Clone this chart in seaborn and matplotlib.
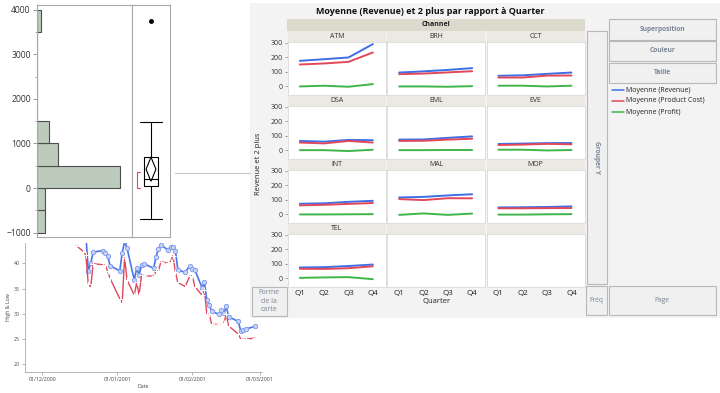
import numpy as np
import pandas as pd
import matplotlib.pyplot as plt
import matplotlib.dates as mdates
from matplotlib.patches import Rectangle, Polygon
from matplotlib.lines import Line2D
import seaborn as sns

# top-left distribution (histogram + outlier box plot)
dist_values = [-700, -560, -320, -120,
               5, 15, 30, 40, 50, 70, 95, 120, 150, 170,
               185, 195, 200, 230, 270, 320, 370, 420, 460, 490,
               700, 760, 820, 900, 960,
               1100, 1250, 1480,
               3750]
hist_bins = np.arange(-1000, 4001, 500)

# bottom-left High & Low series
ts_dates = ['2000-12-15', '2000-12-18', '2000-12-19', '2000-12-20', '2000-12-21', '2000-12-22',
            '2000-12-26', '2000-12-27', '2000-12-28', '2000-12-29', '2001-01-02', '2001-01-03',
            '2001-01-04', '2001-01-05', '2001-01-08', '2001-01-09', '2001-01-10', '2001-01-11',
            '2001-01-12', '2001-01-16', '2001-01-17', '2001-01-18', '2001-01-19', '2001-01-22',
            '2001-01-23', '2001-01-24', '2001-01-25', '2001-01-26', '2001-01-29', '2001-01-31',
            '2001-02-01', '2001-02-02', '2001-02-05', '2001-02-06', '2001-02-07', '2001-02-08',
            '2001-02-09', '2001-02-12', '2001-02-13', '2001-02-14', '2001-02-15', '2001-02-16',
            '2001-02-20', '2001-02-21', '2001-02-22', '2001-02-23', '2001-02-27']
ts_high = [47.0, 46.5, 45.5, 38.5, 40.0, 42.2, 42.5, 42.0, 41.5, 39.5, 38.5, 42.0,
           44.3, 43.0, 36.7, 39.0, 37.7, 39.7, 39.9, 39.0, 41.3, 42.8, 43.6, 42.6,
           43.3, 43.3, 42.5, 38.7, 38.2, 39.5, 38.9, 38.7, 35.2, 36.2, 32.7, 31.7,
           30.5, 29.9, 30.7, 30.1, 31.5, 29.4, 28.5, 26.6, 26.9, 27.0, 27.5]
ts_low = [43.5, 42.3, 41.6, 35.8, 35.3, 39.9, 39.7, 39.6, 38.4, 37.0, 33.0, 32.1,
          41.1, 36.7, 33.7, 36.2, 33.7, 37.7, 37.6, 37.4, 38.5, 38.5, 40.3, 40.0,
          40.3, 41.5, 38.2, 36.2, 35.4, 37.5, 37.5, 35.4, 33.7, 34.7, 29.9, 29.9,
          27.9, 27.9, 27.9, 28.1, 29.9, 27.6, 26.0, 25.0, 25.0, 25.0, 25.2]
ts_ticks = ['2000-12-01', '2001-01-01', '2001-02-01', '2001-03-01']

# right: graph builder, means by channel and quarter
quarters = ['Q1', 'Q2', 'Q3', 'Q4']
channels = ['ATM', 'BRH', 'CCT', 'DSA', 'EML', 'EVE', 'INT', 'MAL', 'MOP', 'TEL']
mean_revenue = [[175, 186, 198, 289], [95, 103, 113, 125], [73, 76, 86, 95],
                [65, 60, 72, 70], [74, 75, 86, 96], [44, 47, 50, 51],
                [73, 76, 86, 93], [116, 120, 130, 138], [48, 49, 51, 55],
                [75, 77, 85, 95]]
mean_cost = [[150, 157, 168, 232], [84, 88, 96, 104], [61, 61, 74, 75],
             [54, 48, 65, 54], [65, 66, 74, 80], [37, 40, 45, 42],
             [62, 66, 72, 78], [105, 98, 111, 110], [42, 42, 43, 44],
             [66, 65, 70, 83]]
mean_profit = [[0, 5, -2, 16], [0, 0, -2, 2], [5, 5, 0, 5],
               [2, 2, -4, 5], [2, 2, 3, 3], [5, 5, 0, 3],
               [0, 0, 1, 2], [-3, 7, -3, 6], [-1, -1, 1, 2],
               [4, 7, 9, -5]]
measure_names = ['Moyenne (Revenue)', 'Moyenne (Product Cost)', 'Moyenne (Profit)']
measure_colors = ['#3f6fe6', '#e2485a', '#3fb54a']

W, H = 720, 393
ZONE_TXT = '#7a8596'


def box(x0, y0, x1, y1):
    # pixel box (top-left origin) -> figure fraction rect
    return [x0 / W, 1 - y1 / H, (x1 - x0) / W, (y1 - y0) / H]


sns.set_style('white')
plt.rcParams['font.family'] = ['Open Sans', 'DejaVu Sans']

fig = plt.figure(figsize=(7.2, 3.93), dpi=100)

# ---------- bottom-left time series ----------
ax_ts = fig.add_axes(box(25, 243, 262, 372), zorder=0)
ts = pd.DataFrame({'Date': pd.to_datetime(ts_dates), 'High': ts_high, 'Low': ts_low})
sns.lineplot(data=ts, x='Date', y='High', ax=ax_ts, color='#4a74e8', lw=1.2,
             marker='o', ms=3.2, mfc='#c5d2f7', mec='#7b97ee', mew=0.6)
sns.lineplot(data=ts, x='Date', y='Low', ax=ax_ts, color='#e0475a', lw=1.0,
             marker='+', ms=4, mew=0.7)
ax_ts.set_ylim(18.5, 44)
ax_ts.set_xlim(pd.Timestamp('2000-11-23 20:00'), pd.Timestamp('2001-03-01 19:00'))
ax_ts.set_xticks(pd.to_datetime(ts_ticks))
ax_ts.xaxis.set_major_formatter(mdates.DateFormatter('%d/%m/%Y'))
ax_ts.set_yticks([20, 25, 30, 35, 40])
ax_ts.tick_params(labelsize=3.8, length=2, width=0.5, color='#999', pad=1.5,
                  labelcolor='#444', bottom=True, left=True)
ax_ts.set_xlabel('Date', fontsize=3.8, labelpad=1.5, color='#444')
ax_ts.set_ylabel('High & Low', fontsize=3.8, labelpad=2, color='#444')
for s in ['top', 'right']:
    ax_ts.spines[s].set_visible(False)
for s in ['left', 'bottom']:
    ax_ts.spines[s].set_color('#aaaaaa')
    ax_ts.spines[s].set_linewidth(0.6)

# ---------- top-left histogram + box plot ----------
ax_hist = fig.add_axes(box(37, 5, 132, 237), zorder=1)
sns.histplot(y=dist_values, bins=hist_bins, ax=ax_hist, color='#bccbbb',
             edgecolor='#4d4d4d', linewidth=0.8, alpha=1)
ax_hist.set_ylim(-1100, 4110)
ax_hist.set_xlim(0, 22.9)
ax_hist.set_xticks([])
ax_hist.set_xlabel('')
ax_hist.set_ylabel('')
ax_hist.set_yticks(range(-1000, 4001, 1000))
ax_hist.set_yticks(range(-500, 4000, 1000), minor=True)
ax_hist.tick_params(axis='y', which='major', labelsize=6.2, left=True, length=3,
                    width=0.6, color='#888', pad=1.5, labelcolor='#333')
ax_hist.tick_params(axis='y', which='minor', left=True, length=1.8, width=0.5, color='#888')

ax_box = fig.add_axes(box(132, 5, 170, 237), zorder=1)
sns.boxplot(y=dist_values, ax=ax_box, width=0.39, color='white', linecolor='black',
            linewidth=0.8, fliersize=2.5,
            flierprops={'marker': 'o', 'markerfacecolor': 'black', 'markeredgecolor': 'black'})
ax_box.set_xlim(-0.5, 0.5)
ax_box.set_ylim(-1100, 4110)
ax_box.set_xticks([])
ax_box.set_yticks([])
ax_box.set_ylabel('')
# widen whisker caps like JMP
for ln in ax_box.lines:
    xd, yd = np.asarray(ln.get_xdata(), float), np.asarray(ln.get_ydata(), float)
    if len(xd) == 2 and yd[0] == yd[1] and abs(xd[1] - xd[0]) < 0.3:
        ln.set_xdata([-0.3, 0.3])

# mean diamond and shortest half bracket
vals = np.sort(np.array(dist_values, float))
n = len(vals)
mean = vals.mean()
ci = 2.037 * vals.std(ddof=1) / np.sqrt(n)
ax_box.add_patch(Polygon([(0, mean + ci), (0.13, mean), (0, mean - ci), (-0.13, mean)],
                         closed=True, fill=False, ec='black', lw=0.8, zorder=10))
k = int(np.ceil(n / 2))
spans = vals[k - 1:] - vals[:n - k + 1]
i0 = int(np.argmin(spans))
lo, hi = vals[i0], vals[i0 + k - 1]
ax_box.plot([-0.29, -0.37, -0.37, -0.29], [hi, hi, lo, lo], color='#e2485a', lw=0.8, zorder=10)

for a in (ax_hist, ax_box):
    for s in a.spines.values():
        s.set_color('#a8a8a8')
        s.set_linewidth(0.8)

# ---------- overlay (pixel coordinates) ----------
ovl = fig.add_axes([0, 0, 1, 1], zorder=2)
ovl.set_xlim(0, W)
ovl.set_ylim(H, 0)
ovl.axis('off')

ovl.plot([175, 250], [173, 173], color='#c8c8c8', lw=0.8)
ovl.add_patch(Rectangle((250, 3), 470, 315, fc='#f3f3f3', ec='none'))

ovl.text(430, 11, 'Moyenne (Revenue) et 2 plus par rapport à Quarter', ha='center', va='center',
         fontsize=6.5, fontweight='bold', color='#111')

GX0, COLW = 287.3, 99.3
ROW0, ROWH, STRIPH, PLOTH = 30.5, 64, 11, 53

ovl.add_patch(Rectangle((GX0, 19), 3 * COLW, 11.5, fc='#dcd9cd', ec='none'))
ovl.text(GX0 + 1.5 * COLW, 24.8, 'Channel', ha='center', va='center', fontsize=5,
         fontweight='bold', color='#222')


def zone(x0, y0, x1, y1, label, bold=False, rot=0, size=4.8):
    ovl.add_patch(Rectangle((x0, y0), x1 - x0, y1 - y0, fc='#f0f0f0', ec='#b8b8b8', lw=0.8))
    ovl.text((x0 + x1) / 2, (y0 + y1) / 2, label, ha='center', va='center', rotation=rot,
             fontsize=size, color=ZONE_TXT, fontweight='bold' if bold else 'normal',
             linespacing=1.35)


zone(252, 286.7, 286.7, 315.7, 'Forme\nde la\ncarte', size=5)
zone(586.7, 30.7, 606.7, 284, 'Grouper Y', bold=True, rot=270)
zone(586, 286, 607.3, 315, 'Fréq')
zone(609, 286, 715.7, 315, 'Page')
zone(609, 19, 716, 39.5, 'Superposition', bold=True)
zone(609, 41, 716, 61, 'Couleur', bold=True)
zone(609, 62.5, 716, 83, 'Taille', bold=True)

for name, col, yy in zip(measure_names, measure_colors, [90, 101, 112]):
    ovl.add_line(Line2D([612, 624], [yy, yy], color=col, lw=1.1))
    ovl.text(626, yy, name, va='center', fontsize=5, color='#222')

ovl.text(258, ROW0 + 2 * ROWH + 5, 'Revenue et 2 plus', rotation=90, ha='center', va='center',
         fontsize=5.5, color='#222')
ovl.text(GX0 + 1.5 * COLW, 301, 'Quarter', ha='center', va='center', fontsize=5.5, color='#222')

# ---------- facet panels ----------
rows = []
for ch, rv, cs, pf in zip(channels, mean_revenue, mean_cost, mean_profit):
    for name, series in zip(measure_names, [rv, cs, pf]):
        for q, v in zip(quarters, series):
            rows.append({'Channel': ch, 'Quarter': q, 'Measure': name, 'value': v})
df = pd.DataFrame(rows)

for idx in range(12):
    r, c = divmod(idx, 3)
    x0 = GX0 + c * COLW
    ys = ROW0 + r * ROWH
    ovl.add_patch(Rectangle((x0 + 0.6, ys), COLW - 1.2, STRIPH, fc='#ebe9e1', ec='none'))
    ax = fig.add_axes(box(x0 + 0.6, ys + STRIPH, x0 + COLW - 0.6, ys + STRIPH + PLOTH), zorder=3)
    ax.set_facecolor('white')
    if idx < len(channels):
        ch = channels[idx]
        ovl.text(x0 + COLW / 2, ys + STRIPH / 2 + 0.3, ch, ha='center', va='center',
                 fontsize=5, color='#333')
        sns.lineplot(data=df[df['Channel'] == ch], x='Quarter', y='value', hue='Measure',
                     hue_order=measure_names, palette=measure_colors, ax=ax,
                     legend=False, linewidth=1.4)
    ax.set_xlim(-0.49, 3.54)
    ax.set_ylim(-55, 307)
    ax.set_xlabel('')
    ax.set_ylabel('')
    ax.set_xticks(range(4))
    ax.set_yticks([0, 100, 200, 300])
    if r == 3:
        ax.set_xticklabels(quarters)
        ax.tick_params(axis='x', labelsize=5.8, length=0, pad=2.5, labelcolor='#222')
    else:
        ax.set_xticklabels([])
        ax.tick_params(axis='x', length=0)
    if c == 0 and idx < len(channels):
        ax.tick_params(axis='y', left=True, labelsize=5, length=2.5, width=0.6,
                       color='#999', pad=1, labelcolor='#333')
    else:
        ax.set_yticklabels([])
        ax.tick_params(axis='y', length=0)
    for s in ax.spines.values():
        s.set_color('#dedede')
        s.set_linewidth(0.7)

fig.savefig('out.png', dpi=100)
plt.close(fig)
